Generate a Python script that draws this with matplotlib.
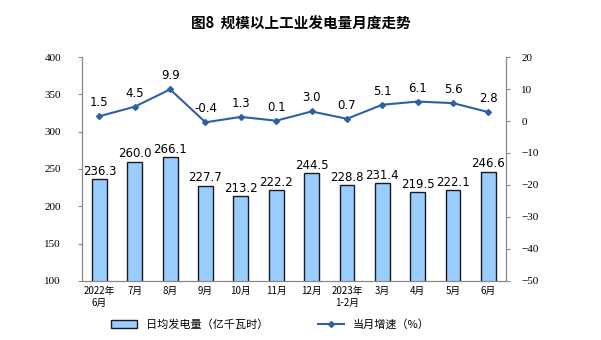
import matplotlib.pyplot as plt
import numpy as np

plt.rcParams['font.family'] = ['Noto Sans CJK SC', 'DejaVu Sans']

months = ['2022年\n6月', '7月', '8月', '9月', '10月', '11月', '12月',
          '2023年\n1-2月', '3月', '4月', '5月', '6月']
daily_output = [236.3, 260.0, 266.1, 227.7, 213.2, 222.2, 244.5,
                228.8, 231.4, 219.5, 222.1, 246.6]
growth = [1.5, 4.5, 9.9, -0.4, 1.3, 0.1, 3.0, 0.7, 5.1, 6.1, 5.6, 2.8]

fig = plt.figure(figsize=(6.01, 3.40), dpi=100)
ax = fig.add_axes([0.136, 0.174, 0.706, 0.658])
ax2 = ax.twinx()

x = np.arange(len(months))
bars = ax.bar(x, daily_output, width=0.42, color='#99ccff', edgecolor='#1a1a1a',
              linewidth=1.0, label='日均发电量（亿千瓦时）', zorder=2)
for xi, v in zip(x, daily_output):
    ax.text(xi, v + 1.5, f'{v:.1f}', ha='center', va='bottom', fontsize=8.5,
            family='DejaVu Sans')

line, = ax2.plot(x, growth, color='#2e5fa8', marker='D', markersize=3,
                 linewidth=1.5, label='当月增速（%）')
for xi, v in zip(x, growth):
    ax2.text(xi, v + 2.2, f'{v:.1f}', ha='center', va='bottom', fontsize=8.5,
             family='DejaVu Sans')

ax.set_xlim(-0.5, len(months) - 0.5)
ax.set_ylim(100, 400)
ax.set_yticks(range(100, 401, 50))
ax2.set_ylim(-50, 20)
ax2.set_yticks(range(-50, 21, 10))

ax.set_xticks(x)
ax.set_xticklabels(months, fontsize=7)
for lab in ax.get_yticklabels() + ax2.get_yticklabels():
    lab.set_family('Liberation Serif')
ax.tick_params(axis='y', labelsize=8, length=3, color='#888888', pad=12)
ax.tick_params(axis='x', length=0, pad=4)
ax2.tick_params(axis='y', labelsize=8, length=3, color='#888888', pad=8)

for a in (ax, ax2):
    a.spines['top'].set_visible(False)
    for s in ('left', 'right', 'bottom'):
        a.spines[s].set_color('#888888')
        a.spines[s].set_linewidth(0.8)

fig.suptitle('图8  规模以上工业发电量月度走势', fontsize=10.5, y=0.955,
             fontweight='bold')

fig.legend(handles=[bars, line], loc='lower center', ncol=2, frameon=False,
           fontsize=8, bbox_to_anchor=(0.45, 0.0), columnspacing=4.5,
           handlelength=2.3)

fig.savefig('out.png', dpi=100)
